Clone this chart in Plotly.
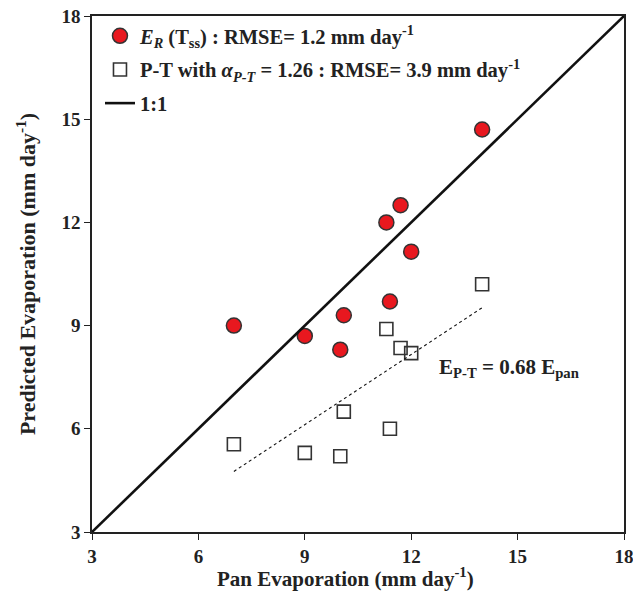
import plotly.graph_objects as go

# Pan evaporation (x) vs predicted evaporation (y), mm/day
pan_evap = [7.0, 9.0, 10.1, 10.0, 11.4, 11.3, 11.7, 12.0, 14.0]
er_tss = [9.0, 8.7, 9.3, 8.3, 9.7, 12.0, 12.5, 11.15, 14.7]
pt_alpha = [5.55, 5.3, 6.5, 5.2, 6.0, 8.9, 8.35, 8.2, 10.2]

one_to_one = [3, 18]
pt_slope = 0.68
fit_x = [7.0, 14.0]
fit_y = [pt_slope * v for v in fit_x]

tick_vals = [3, 6, 9, 12, 15, 18]

serif = "Liberation Serif"
ink = "#222222"

fig = go.Figure()

fig.add_trace(go.Scatter(
    x=pan_evap, y=er_tss, mode="markers", legendgroup="er",
    name="<i>E<sub>R</sub></i> (T<sub>ss</sub>) : RMSE= 1.2 mm day<sup>-1</sup>",
    marker=dict(symbol="circle", size=15, color="#e8181f",
                line=dict(color="#333333", width=1.5)),
))
fig.add_trace(go.Scatter(
    x=pan_evap, y=pt_alpha, mode="markers", legendgroup="pt",
    name="P-T with <i>α<sub>P-T</sub></i> = 1.26 : RMSE= 3.9 mm day<sup>-1</sup>",
    marker=dict(symbol="square-open", size=13, color="#333333",
                line=dict(color="#333333", width=1.6)),
))
fig.add_trace(go.Scatter(
    x=one_to_one, y=one_to_one, mode="lines", name="1:1", legendgroup="ref",
    line=dict(color="#111111", width=2.6),
))
fig.add_trace(go.Scatter(
    x=fit_x, y=fit_y, mode="lines", showlegend=False,
    line=dict(color="#111111", width=1.1, dash="3px,3px"),
))

fig.add_annotation(
    x=12.73, y=7.77, xref="x", yref="y", xanchor="left", yanchor="middle",
    text="E<sub>P-T</sub> = 0.68 E<sub>pan</sub>", showarrow=False,
    font=dict(family=serif, size=21, color=ink, weight="bold"),
)

# x-axis title placed as an annotation below the axis
fig.add_annotation(
    x=0.476, y=-0.089, xref="paper", yref="paper",
    xanchor="center", yanchor="middle", showarrow=False,
    text="Pan Evaporation (mm day<sup>-1</sup>)",
    font=dict(family=serif, size=21, color=ink, weight="bold"),
)

axis_common = dict(
    range=[3, 18], tickvals=tick_vals, ticks="outside", ticklen=6,
    tickwidth=1.2, tickcolor=ink, showline=True, linecolor=ink,
    linewidth=1.5, mirror=True, showgrid=False, zeroline=False,
    automargin=False, ticklabeloverflow="allow",
    tickfont=dict(family=serif, size=19, color=ink, weight="bold"),
)

fig.update_xaxes(**axis_common)
fig.update_yaxes(
    **axis_common,
    title=dict(text="Predicted Evaporation (mm day<sup>-1</sup>)", standoff=20,
               font=dict(family=serif, size=22, color=ink, weight="bold")),
)

fig.update_layout(
    width=633, height=595,
    margin=dict(l=92, r=9, t=16, b=63),
    plot_bgcolor="white", paper_bgcolor="white",
    legend=dict(
        x=0.015, y=1.0, xanchor="left", yanchor="top",
        bgcolor="rgba(0,0,0,0)",
        font=dict(family=serif, size=20.5, color=ink, weight="bold"),
        itemwidth=30, tracegroupgap=4,
    ),
)

fig.write_html("out.html")
